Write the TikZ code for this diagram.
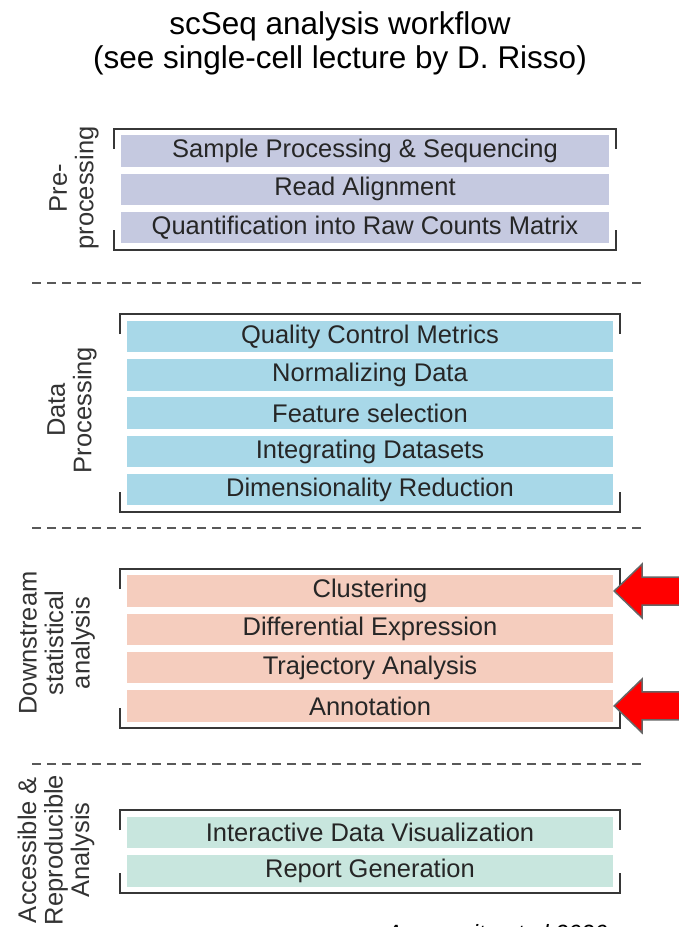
\documentclass[tikz,border=0pt]{standalone}
\usepackage{fontspec}
\setmainfont{Liberation Sans}
\usetikzlibrary{positioning}
\newcommand{\boxWidth}{486pt}
\newcommand{\boxHeight}{31.5pt}
\newcommand{\boxGap}{6.4pt}
\newcommand{\bracketPad}{6.5pt}
\newcommand{\tickLength}{20pt}
\newcommand{\dashLeft}{32}
\newcommand{\dashRight}{641}
\definecolor{preColor}{RGB}{197,201,224}
\definecolor{dataColor}{RGB}{168,216,232}
\definecolor{downColor}{RGB}{245,205,190}
\definecolor{accColor}{RGB}{200,230,222}
\definecolor{frameGray}{RGB}{55,55,55}
\definecolor{arrowRed}{RGB}{255,0,0}

\begin{document}
\begin{tikzpicture}[x=1pt,y=-1pt,
  stage/.style={minimum width=\boxWidth, minimum height=\boxHeight, inner sep=0pt,
    font=\fontsize{25.5}{27}\selectfont, text=black!85},
  preBox/.style={stage, fill=preColor, minimum width=488pt},
  dataBox/.style={stage, fill=dataColor},
  downBox/.style={stage, fill=downColor},
  accBox/.style={stage, fill=accColor},
  bracket/.style={draw=frameGray, line width=2pt},
  separator/.style={draw=black!65, line width=1.4pt, dash pattern=on 9pt off 6pt},
  sideLabel/.style={rotate=90, align=center, text=black!80,
    font=\fontsize{25.5}{26.5}\selectfont},
  pointer/.style={fill=arrowRed, draw=black!60, line width=1.5pt, line join=miter}]
\useasboundingbox (0,0) rectangle (679,927);

\node (title) at (340,43) [align=center, font=\fontsize{31.5}{34}\selectfont]
  {scSeq analysis workflow\\(see single-cell lecture by D. Risso)};

\node (pre1) at (365,151) [preBox] {Sample Processing \& Sequencing};
\node (pre2) [preBox, below=\boxGap of pre1] {Read Alignment};
\node (pre3) [preBox, below=\boxGap of pre2] {Quantification into Raw Counts Matrix};
\node (preLbl) at (74,188) [sideLabel] {Pre-\\processing};

\node (data1) at (370,336.5) [dataBox] {Quality Control Metrics};
\node (data2) [dataBox, below=\boxGap of data1] {Normalizing Data};
\node (data3) [dataBox, below=\boxGap of data2] {Feature selection};
\node (data4) [dataBox, below=\boxGap of data3] {Integrating Datasets};
\node (data5) [dataBox, below=\boxGap of data4] {Dimensionality Reduction};
\node (dataLbl) at (72,410) [sideLabel] {Data\\Processing};

\node (down1) at (370,591) [downBox] {Clustering};
\node (down2) [downBox, below=\boxGap of down1] {Differential Expression};
\node (down3) [downBox, below=\boxGap of down2] {Trajectory Analysis};
\node (down4) [downBox, below=\boxGap of down3] {Annotation};
\node (downLbl) at (57,643) [sideLabel] {Downstream\\statistical\\analysis};

\node (acc1) at (370,832.5) [accBox] {Interactive Data Visualization};
\node (acc2) [accBox, below=\boxGap of acc1] {Report Generation};
\node (accLbl) at (56,850) [sideLabel] {Accessible \&\\Reproducible\\Analysis};

\node (cite) at (497,921) [anchor=north, font=\fontsize{23.5}{26}\selectfont\itshape]
  {Amezquita et al 2020};

\foreach \first/\last in {pre1/pre3, data1/data5, down1/down4, acc1/acc2} {
  \draw[bracket] ([xshift=-\bracketPad, yshift=6.5pt-\tickLength]\first.north west)
    |- ([xshift=\bracketPad, yshift=6.5pt]\first.north east) -- ++(0pt,-\tickLength);
  \draw[bracket] ([xshift=-\bracketPad, yshift=\tickLength-6.5pt]\last.south west)
    |- ([xshift=\bracketPad, yshift=-6.5pt]\last.south east) -- ++(0pt,\tickLength);
}

\draw[separator] (\dashLeft,283) -- (\dashRight,283);
\draw[separator] (\dashLeft,528) -- (\dashRight,528);
\draw[separator] (\dashLeft,764) -- (\dashRight,764);

\foreach \target in {down1, down4} {
  \draw[pointer] ([xshift=1pt]\target.east) -- ++(28pt,27pt) -- ++(0pt,-13pt)
    -- ++(50pt,0pt) -- ++(0pt,-28pt) -- ++(-50pt,0pt) -- ++(0pt,-13pt) -- cycle;
}
\end{tikzpicture}
\end{document}
